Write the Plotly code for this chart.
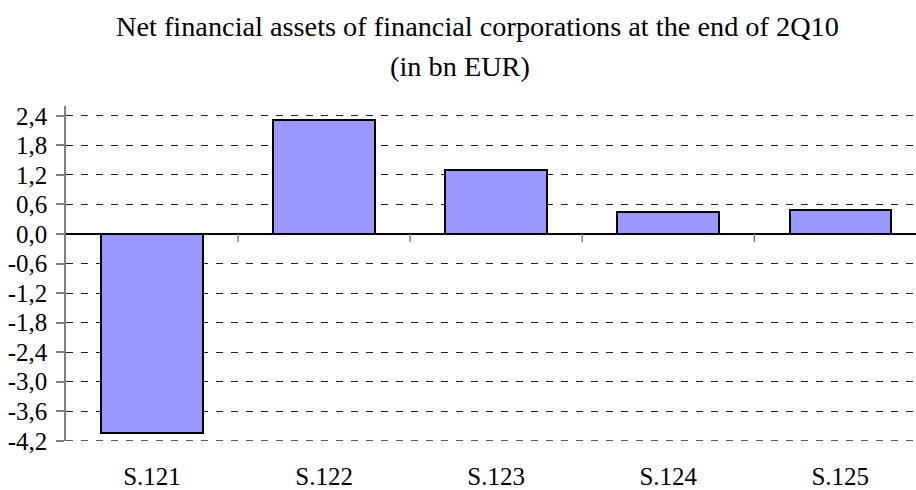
import plotly.graph_objects as go

categories = ["S.121", "S.122", "S.123", "S.124", "S.125"]
values = [-4.05, 2.32, 1.30, 0.44, 0.49]
tick_vals = [-4.2, -3.6, -3.0, -2.4, -1.8, -1.2, -0.6, 0.0, 0.6, 1.2, 1.8, 2.4]
tick_text = [f"{v:.1f}".replace(".", ",") for v in tick_vals]
title_line1 = "Net financial assets of financial corporations at the end of 2Q10"
title_line2 = "(in bn EUR)"

W, H = 916, 490
ml, mr, mt, mb = 66, 0, 106, 49
font = "'Liberation Serif', 'Times New Roman', Times, serif"
grid_dash = "7px,8px"

fig = go.Figure()
fig.add_trace(go.Bar(
    x=list(range(len(categories))), y=values,
    width=0.59,
    marker=dict(color="#9999FF", line=dict(color="black", width=2)),
    hoverinfo="y",
))

# category boundary ticks on the zero line
shapes = []
for i in range(len(categories) - 1):
    shapes.append(dict(type="line", xref="x", yref="y", x0=i + 0.5, x1=i + 0.5,
                       ysizemode="pixel", yanchor=0, y0=0, y1=-8,
                       line=dict(color="#808080", width=1.5)))
# bottom gridline (plotly clips gridlines lying on the plot edge)
shapes.append(dict(type="line", xref="paper", yref="y", x0=0, x1=1,
                   y0=tick_vals[0], y1=tick_vals[0], layer="below",
                   line=dict(color="#222222", width=1, dash=grid_dash)))

ph = H - mt - mb
pw = W - ml - mr
def py(p):
    return (H - mb - p) / ph
def px(p):
    return (p - ml) / pw

fig.update_layout(
    width=W, height=H,
    margin=dict(l=ml, r=mr, t=mt, b=mb),
    paper_bgcolor="white", plot_bgcolor="white",
    showlegend=False,
    bargap=0,
    font=dict(family=font, size=25, color="black"),
    shapes=shapes,
    annotations=[
        dict(text=title_line1, xref="paper", yref="paper", x=px(477), y=py(27),
             xanchor="center", yanchor="middle", showarrow=False,
             font=dict(family=font, size=28.3, color="black")),
        dict(text=title_line2, xref="paper", yref="paper", x=px(460), y=py(66),
             xanchor="center", yanchor="middle", showarrow=False,
             font=dict(family=font, size=28.3, color="black")),
    ],
    xaxis=dict(
        range=[-0.5, 4.44],
        tickvals=list(range(len(categories))), ticktext=categories,
        showgrid=False, zeroline=False, showline=False, ticks="",
        ticklabelstandoff=18,
        tickfont=dict(family=font, size=25, color="black"),
        automargin=False,
    ),
    yaxis=dict(
        range=[-4.205, 2.6],
        tickvals=tick_vals, ticktext=tick_text,
        showgrid=True, gridcolor="#222222", gridwidth=1, griddash=grid_dash,
        zeroline=True, zerolinecolor="black", zerolinewidth=1.5,
        showline=True, linecolor="#808080", linewidth=1.5,
        ticks="outside", ticklen=8, tickcolor="#808080", tickwidth=1.5,
        ticklabelstandoff=4,
        tickfont=dict(family=font, size=25, color="black"),
        automargin=False,
    ),
)

fig.write_html("out.html", config={"displayModeBar": False},
               post_script="document.body.style.margin='0';document.body.style.padding='0';")
